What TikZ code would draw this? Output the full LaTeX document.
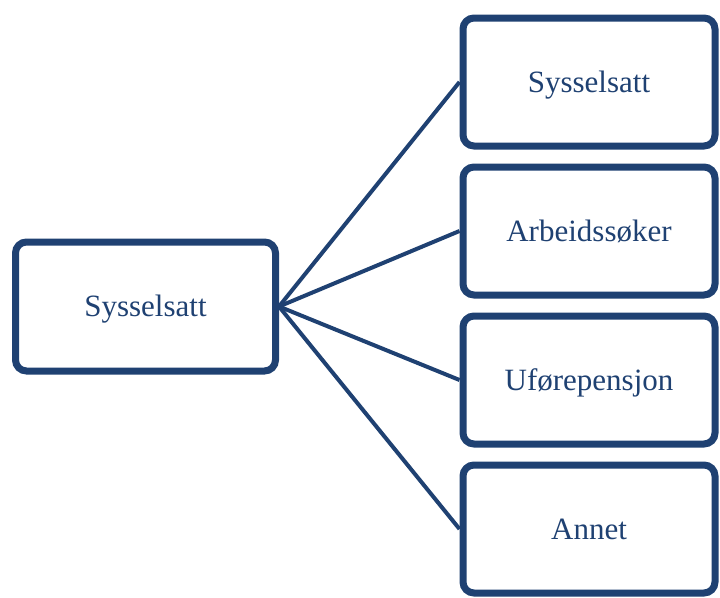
\documentclass[tikz,border=0pt]{standalone}
\usepackage{fontspec}
\setmainfont{Liberation Serif}
\usetikzlibrary{shadows}
\definecolor{statusblue}{RGB}{31,65,114}
\tikzset{
    % Box for an employment status
    statebox/.style={
        rectangle, rounded corners=11pt, draw=statusblue, fill=white,
        line width=7pt, inner sep=0pt, text=statusblue,
        font=\fontsize{31}{36}\selectfont, text height=20pt, text depth=0pt,
        drop shadow={shadow xshift=2pt, shadow yshift=-2.5pt,
                     opacity=0.22, fill=black!60}
    },
    % Start box on the left
    startbox/.style={statebox, minimum width=260pt, minimum height=129pt},
    % Outcome boxes on the right
    outbox/.style={statebox, minimum width=252pt, minimum height=128pt},
    % Transition line
    link/.style={line width=4pt, statusblue},
}

\begin{document}
\begin{tikzpicture}[x=1pt,y=-1pt]
      \useasboundingbox (0,0) rectangle (720,597);
      \node[startbox] (a) at (145.5,306.5) {Sysselsatt};
      \foreach \lbl [count=\i from 0] in {Sysselsatt,Arbeidssøker,Uførepensjon,Annet}{\node[outbox] (b\i) at (589,82+149*\i) {\lbl};}
      \foreach \i in {0,1,2,3}{\draw[link] (a.east)--(b\i.west);}
    \end{tikzpicture}
\end{document}
